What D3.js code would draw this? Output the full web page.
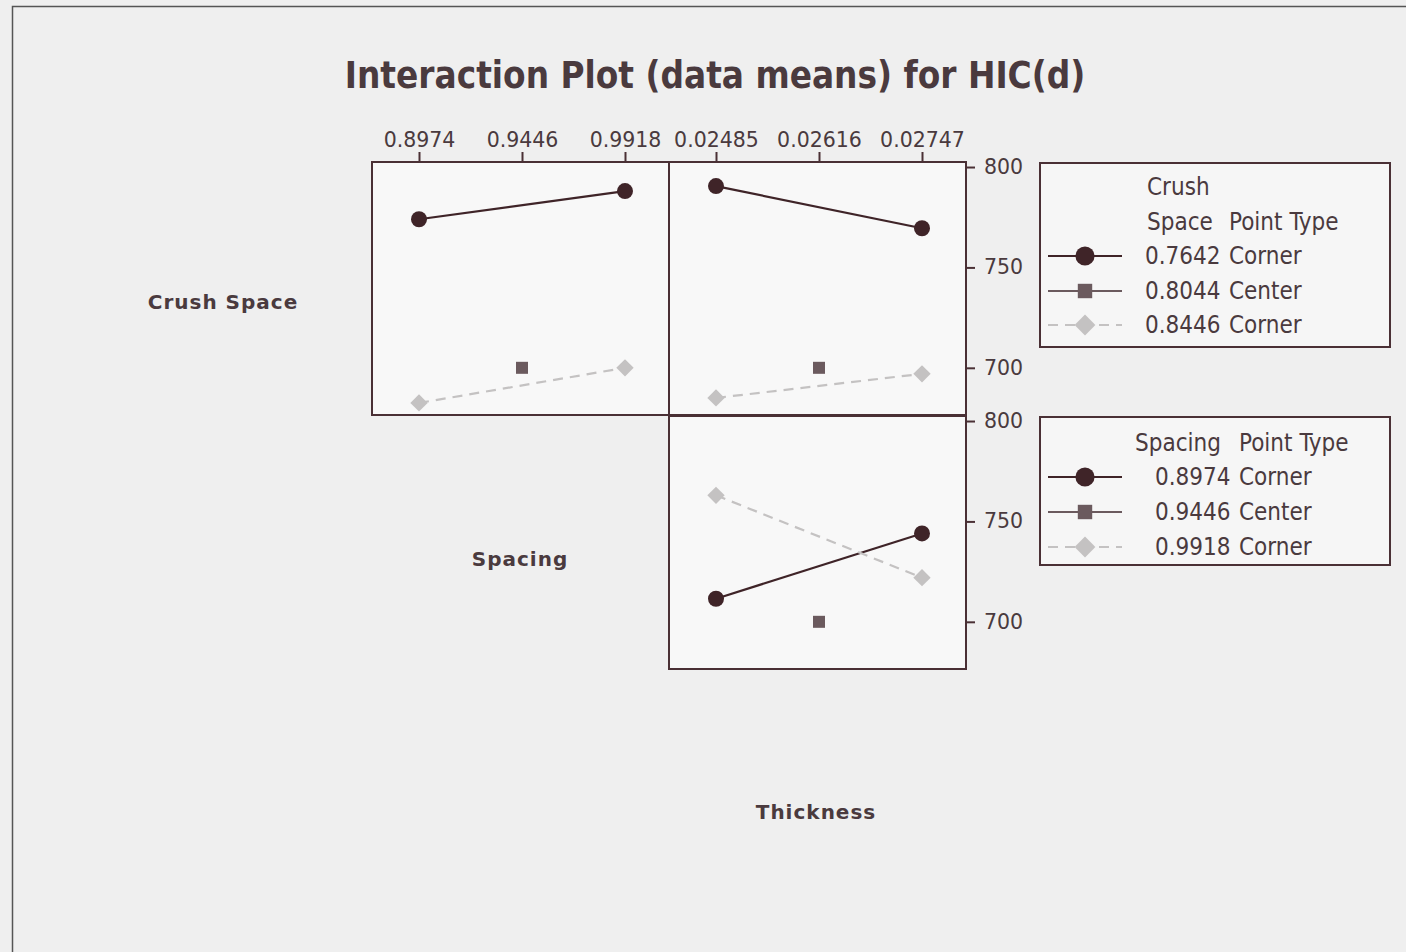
<!DOCTYPE html>
<html>
<head>
<meta charset="utf-8">
<script src="https://cdn.jsdelivr.net/npm/d3@7"></script>
<style>
  body { margin: 0; background: #efefef; }
  text { font-family: "DejaVu Sans Condensed", "DejaVu Sans", sans-serif; }
</style>
</head>
<body>
<div id="chart"></div>
<script>
// levels of each factor
var spacingLevels = ["0.8974", "0.9446", "0.9918"];
var thicknessLevels = ["0.02485", "0.02616", "0.02747"];
var crushLevels = ["0.7642", "0.8044", "0.8446"];
var pointTypes = ["Corner", "Center", "Corner"];
var yTicks = [700, 750, 800];

// means of HIC(d), one row per trace level (null = no run there)
var crushBySpacing = [
  [774, null, 788],
  [null, 700, null],
  [682.5, null, 700]
];
var crushByThickness = [
  [790.5, null, 769.5],
  [null, 700, null],
  [685, null, 697]
];
var spacingByThickness = [
  [711.5, null, 744],
  [null, 700, null],
  [763, null, 722]
];

var W = 1406, H = 952;
var ink = "#4a3a3e";
var frame = "#4a3035";
var styles = [
  {color: "#3f2428", dash: null, shape: "circle"},
  {color: "#6b5a5e", dash: null, shape: "square"},
  {color: "#c4c2c2", dash: "10,7", shape: "diamond"}
];

var svg = d3.select("#chart").append("svg")
  .attr("width", W).attr("height", H);

svg.append("rect").attr("width", W).attr("height", H).attr("fill", "#efefef");
// outer frame
svg.append("path").attr("d", "M12.5," + H + "V6.5H" + W)
  .attr("fill", "none").attr("stroke", "#555").attr("stroke-width", 1.5);

svg.append("text").attr("x", 715).attr("y", 88)
  .attr("text-anchor", "middle").attr("font-size", 36.5).attr("font-weight", "bold")
  .attr("fill", ink).text("Interaction Plot (data means) for HIC(d)");

var pw = 297, ph = 253;
var yScale = d3.scaleLinear().domain([676.5, 802.5]).range([ph, 0]);
var xScale = d3.scalePoint().domain([0, 1, 2]).range([47, 253]);

function marker(g, shape, color, cx, cy, k) {
  k = k || 1;
  if (shape == "circle") {
    g.append("circle").attr("cx", cx).attr("cy", cy).attr("r", 8 * k).attr("fill", color);
  } else if (shape == "square") {
    g.append("rect").attr("x", cx - 6 * k).attr("y", cy - 6 * k)
      .attr("width", 12 * k).attr("height", 12 * k).attr("fill", color);
  } else {
    g.append("path").attr("d", d3.symbol().type(d3.symbolSquare).size(150 * k * k)())
      .attr("transform", "translate(" + cx + "," + cy + ") rotate(45)")
      .attr("fill", color);
  }
}

function panel(x0, y0, data, topLabels, rightAxis) {
  var g = svg.append("g").attr("transform", "translate(" + x0 + "," + y0 + ")");
  g.append("rect").attr("width", pw).attr("height", ph).attr("fill", "#f8f8f8");

  data.forEach(function (row, i) {
    var pts = [];
    row.forEach(function (v, j) { if (v != null) pts.push([xScale(j), yScale(v)]); });
    if (pts.length > 1) {
      g.append("path").attr("d", d3.line()(pts))
        .attr("fill", "none").attr("stroke", styles[i].color).attr("stroke-width", 2.2)
        .attr("stroke-dasharray", styles[i].dash);
    }
    pts.forEach(function (p) { marker(g, styles[i].shape, styles[i].color, p[0], p[1]); });
  });

  g.append("rect").attr("width", pw).attr("height", ph)
    .attr("fill", "none").attr("stroke", frame).attr("stroke-width", 2);

  if (topLabels) {
    var xa = d3.scalePoint().domain(topLabels).range([47, 253]);
    var ax = g.append("g").call(d3.axisTop(xa).tickSize(10).tickPadding(5));
    ax.select(".domain").remove();
    ax.selectAll("line").attr("stroke", frame).attr("stroke-width", 2);
    ax.selectAll("text").attr("font-size", 20.5).attr("fill", ink)
      .style("font-family", "DejaVu Sans");
  }
  if (rightAxis) {
    var ay = g.append("g").attr("transform", "translate(" + pw + ",0)")
      .call(d3.axisRight(yScale).tickValues(yTicks).tickSize(9).tickPadding(9));
    ay.select(".domain").remove();
    ay.selectAll("line").attr("stroke", frame).attr("stroke-width", 2);
    ay.selectAll("text").attr("font-size", 20.5).attr("fill", ink)
      .style("font-family", "DejaVu Sans");
  }
}

panel(372, 162, crushBySpacing, spacingLevels, false);
panel(669, 162, crushByThickness, thicknessLevels, true);
panel(669, 416, spacingByThickness, null, true);

// row labels
[["Crush Space", 223, 309], ["Spacing", 520, 566], ["Thickness", 816, 819]].forEach(function (l) {
  svg.append("text").attr("x", l[1]).attr("y", l[2]).attr("text-anchor", "middle")
    .attr("font-size", 20).attr("font-weight", "bold").attr("letter-spacing", 1)
    .attr("fill", ink).style("font-family", "DejaVu Sans").text(l[0]);
});

function legend(y0, h, headLines, levels, valX, typeX, rowY) {
  var g = svg.append("g");
  g.append("rect").attr("x", 1040).attr("y", y0).attr("width", 350).attr("height", h)
    .attr("fill", "#f6f6f6").attr("stroke", frame).attr("stroke-width", 2);
  headLines.forEach(function (hl) {
    g.append("text").attr("x", hl[1]).attr("y", hl[2]).attr("font-size", 24)
      .attr("fill", ink).text(hl[0]);
  });
  levels.forEach(function (lv, i) {
    var cy = rowY[i];
    g.append("line").attr("x1", 1048).attr("x2", 1122).attr("y1", cy).attr("y2", cy)
      .attr("stroke", styles[i].color).attr("stroke-width", 2.2)
      .attr("stroke-dasharray", styles[i].dash);
    marker(g, styles[i].shape, styles[i].color, 1085, cy, 1.2);
    g.append("text").attr("x", valX).attr("y", cy + 8).attr("font-size", 24)
      .attr("fill", ink).text(lv);
    g.append("text").attr("x", typeX).attr("y", cy + 8).attr("font-size", 24)
      .attr("fill", ink).text(pointTypes[i]);
  });
}

legend(163, 184, [["Crush", 1147, 195], ["Space", 1147, 230], ["Point Type", 1229, 230]],
  crushLevels, 1145, 1229, [256, 291, 325]);
legend(417, 148, [["Spacing", 1135, 451], ["Point Type", 1239, 451]],
  spacingLevels, 1155, 1239, [477, 512, 547]);
</script>
</body>
</html>
